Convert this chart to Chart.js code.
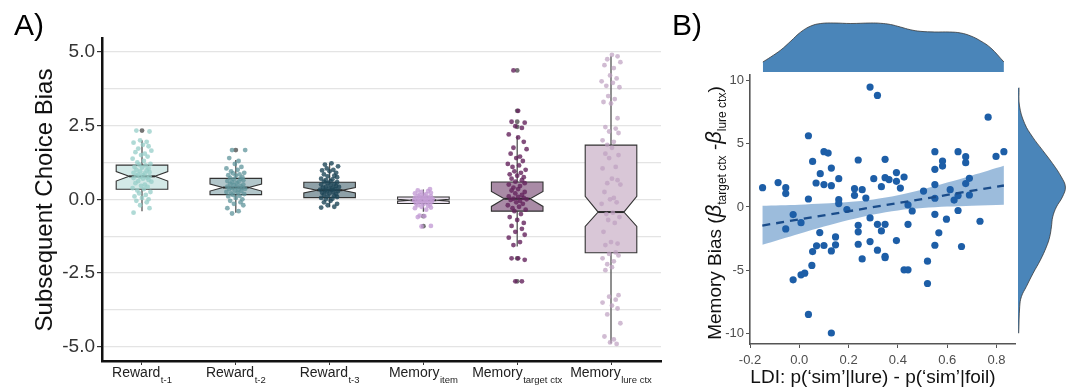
<!DOCTYPE html>
<html><head><meta charset="utf-8">
<script src="https://cdn.jsdelivr.net/npm/chart.js@4.4.1/dist/chart.umd.min.js"></script>
<style>
html,body{margin:0;padding:0;background:#fff;}
#wrap{position:relative;width:1083px;height:387px;overflow:hidden;background:#fff;}
canvas{position:absolute;}
</style></head><body>
<div id="wrap">
<canvas id="cA" width="680" height="387" style="left:0;top:0;width:680px;height:387px"></canvas>
<canvas id="cB" width="423" height="387" style="left:660px;top:0;width:423px;height:387px"></canvas>
<canvas id="cTop" width="423" height="80" style="left:660px;top:0;width:423px;height:80px"></canvas>
<canvas id="cRight" width="83" height="387" style="left:1000px;top:0;width:83px;height:387px"></canvas>
</div>
<script>
// ---------- Panel A data ----------
const categoryNames = ['Reward','Reward','Reward','Memory','Memory','Memory'];
const categorySubs = ['t-1','t-2','t-3','item','target ctx','lure ctx'];
const boxQ1     = [0.34, 0.16, 0.06, -0.14, -0.40, -1.81];
const boxMedian = [0.78, 0.40, 0.31, -0.03, 0.02, -0.43];
const boxQ3     = [1.16, 0.71, 0.58, 0.08, 0.59, 1.84];
const whiskerLow  = [-0.40, -0.45, -0.27, -0.42, -1.60, -4.89];
const whiskerHigh = [2.00, 1.33, 1.22, 0.33, 2.14, 4.85];
const notchLow  = [0.62, 0.28, 0.22, -0.06, -0.24, -0.92];
const notchHigh = [0.94, 0.52, 0.40, 0.00, 0.27, 0.10];
const outliers = [[2.33],[1.67],[],[-0.57,-0.91],[4.37,3.0,2.63,2.46,-2.0,-2.78],[]];
const pointsReward1 = [2.33,2.3,2.0,1.95,1.92,1.85,1.8,1.72,1.65,1.6,1.55,1.5,1.45,1.38,1.3,1.25,1.2,1.18,1.15,1.1,1.08,1.05,1.0,0.98,0.95,0.92,0.9,0.88,0.85,0.82,0.8,0.78,0.76,0.74,0.72,0.7,0.66,0.62,0.6,0.55,0.5,0.46,0.42,0.38,0.35,0.3,0.25,0.2,0.15,0.1,0.05,0.0,-0.05,-0.1,-0.2,-0.3,-0.45];
const pointsReward2 = [1.67,1.67,1.4,1.3,1.2,1.1,1.05,1.0,0.95,0.9,0.88,0.85,0.82,0.8,0.75,0.72,0.7,0.68,0.65,0.62,0.6,0.58,0.55,0.52,0.5,0.48,0.45,0.43,0.42,0.4,0.38,0.36,0.35,0.33,0.3,0.28,0.25,0.22,0.2,0.18,0.15,0.12,0.1,0.05,0.0,-0.05,-0.1,-0.15,-0.2,-0.3,-0.4,-0.48];
const pointsReward3 = [1.22,1.18,1.12,1.05,1.0,0.98,0.95,0.9,0.85,0.8,0.78,0.75,0.7,0.68,0.65,0.62,0.6,0.58,0.55,0.52,0.5,0.48,0.45,0.43,0.42,0.4,0.38,0.36,0.35,0.33,0.32,0.3,0.28,0.26,0.25,0.22,0.2,0.18,0.15,0.12,0.1,0.08,0.05,0.02,0.0,-0.05,-0.1,-0.15,-0.2,-0.25,-0.28];
const pointsMemItem = [0.35,0.3,0.28,0.25,0.22,0.2,0.18,0.15,0.13,0.12,0.1,0.08,0.07,0.05,0.04,0.03,0.02,0.01,0.0,-0.01,-0.02,-0.03,-0.04,-0.05,-0.06,-0.08,-0.1,-0.12,-0.14,-0.16,-0.18,-0.2,-0.22,-0.25,-0.28,-0.3,-0.35,-0.55,-0.57,-0.6,-0.9,-0.92];
const pointsMemTarget = [4.37,3.0,2.63,2.6,2.48,2.42,2.2,2.1,1.95,1.75,1.7,1.55,1.45,1.4,1.3,1.2,1.15,1.1,1.0,0.95,0.9,0.85,0.8,0.75,0.7,0.65,0.6,0.55,0.5,0.45,0.4,0.35,0.3,0.25,0.2,0.15,0.1,0.08,0.05,0.02,0.0,-0.02,-0.05,-0.1,-0.15,-0.2,-0.25,-0.3,-0.35,-0.4,-0.5,-0.6,-0.7,-0.8,-0.9,-1.0,-1.1,-1.2,-1.3,-1.45,-1.55,-2.0,-2.0,-2.05,-2.78,-2.78];
const pointsMemLure = [4.9,4.85,4.75,4.65,4.55,4.45,4.2,4.1,4.0,3.95,3.85,3.8,3.5,3.4,3.3,3.25,2.75,2.45,2.4,2.3,2.25,2.0,1.95,1.85,1.75,1.55,1.5,1.4,1.1,1.05,0.7,0.65,0.55,0.5,0.25,0.05,0.0,-0.1,-0.15,-0.45,-0.5,-0.6,-0.7,-0.8,-1.1,-1.45,-1.5,-1.55,-1.8,-1.85,-1.9,-2.0,-2.1,-2.2,-2.3,-2.4,-3.25,-3.3,-3.4,-3.5,-3.6,-3.7,-3.9,-4.2,-4.65,-4.75,-4.85,-4.9];
const yTickLabelsA = ['-5.0','-2.5','0.0','2.5','5.0'];

// ---------- Panel B data ----------
const ldi = [-0.149,-0.086,-0.055,-0.055,-0.025,0.037,0.037,0.054,0.068,0.085,0.1,0.117,0.1,0.13,0.13,0.16,0.16,0.16,0.193,0.224,0.224,0.239,0.255,0.27,0.287,0.317,0.287,0.302,0.333,0.348,0.348,0.364,0.394,0.394,0.41,0.425,0.441,0.458,0.504,0.55,0.55,0.55,0.55,0.55,0.581,0.581,0.612,0.628,0.644,0.644,0.644,0.675,0.675,0.675,0.69,0.69,0.766,0.798,0.83,0.733,0.597,
  -0.055,0.007,0.083,0.054,0.07,0.1,0.13,0.147,0.147,0.051,-0.025,0.007,0.022,0.037,0.13,0.239,0.239,0.239,0.255,0.287,0.317,0.317,0.333,0.348,0.348,0.348,0.394,0.425,0.441,0.441,0.52,0.52,0.55,0.566,0.658];
const memBias = [1.53,1.93,1.53,1.06,-0.6,5.64,0.63,3.61,1.9,2.64,4.38,4.27,1.77,1.69,3.08,2.24,0.58,0.27,-0.2,1.45,0.92,3.72,1.37,0.71,9.49,8.83,-0.87,2.24,1.61,3.77,2.32,2.17,2.72,2.03,1.5,2.37,0.16,-0.32,1.26,4.38,2.98,1.77,0.69,-0.58,3.64,3.24,1.37,0.55,4.38,0.9,-0.28,3.98,3.51,1.85,2.27,0.95,7.11,4.0,4.38,-1.13,-0.97,
  -1.74,-1.24,-2.03,-3.53,-3.08,-3.05,-3.48,-2.37,-3.0,-4.63,-5.77,-5.37,-5.24,-8.51,-9.98,-1.45,-1.97,-2.95,-4.11,-2.74,-1.37,-3.42,-1.9,-1.37,-3.9,-4.02,-2.66,-4.98,-4.98,-1.37,-4.29,-6.06,-3.03,-2.05,-3.13];
const bandX = [-0.15, 0.0, 0.1, 0.2, 0.3, 0.4, 0.5, 0.6, 0.7, 0.83];
const bandUpper = [0.10, 0.18, 0.27, 0.39, 0.60, 0.93, 1.39, 1.93, 2.50, 3.27];
const bandLower = [-3.00, -2.12, -1.55, -1.03, -0.59, -0.27, -0.09, 0.03, 0.10, 0.17];
const fitX = [-0.15, 0.83];
const fitY = [-1.47, 1.70];
const topDensX = [-0.148,-0.116,-0.075,-0.034,0.006,0.047,0.087,0.14,0.209,0.29,0.33,0.37,0.41,0.45,0.49,0.55,0.61,0.655,0.696,0.736,0.777,0.83];
const topDensY = [10,15,22,31,40,46,48.5,49,48.5,49,48.7,47.5,45,42.3,40.7,40,40,39,36,31,24,10];
const rightDensY = [-10,-7.9,-7.1,-6.3,-5.26,-4.2,-3.16,-2.37,-1.58,-0.79,0,0.79,1.58,2.37,3.43,4.48,5.53,6.6,8.0,9.45];
const rightDensX = [0.7,1.7,3.4,8.4,15,22.4,28.4,31.7,33.4,34.7,38.4,44.4,47.4,43.4,34.7,24.7,14.7,6.7,1.5,1];

// ---------- styles ----------
const FONT = "'Liberation Sans', Arial, sans-serif";
Chart.defaults.font.family = FONT;
const boxFill = ['#d3e9e7','#b2c6ca','#8fa1a8','#ece3f0','#a98ba6','#d9c7d7'];
const pointColor = ['rgba(150,206,200,0.75)','rgba(95,148,155,0.75)','rgba(30,70,88,0.8)','rgba(196,158,214,0.8)','rgba(100,35,92,0.8)','rgba(190,160,192,0.7)'];
const jitter = [-0.06,0.08,-0.02,0.05,-0.09,0.01,0.07,-0.04,0.10,-0.07,0.03,-0.01,0.06,-0.10,0.02,-0.05,0.09,-0.03,0.04,-0.08,0.00,0.07,-0.06,0.05,-0.02,0.08,-0.09,0.03,-0.04,0.01];
const pointsByCategory = [pointsReward1,pointsReward2,pointsReward3,pointsMemItem,pointsMemTarget,pointsMemLure];

const boxPlugin = {
  id:'boxes',
  beforeDatasetsDraw(chart){
    const {ctx, scales:{x,y}} = chart;
    const hw = 0.275, nw = 0.5;
    ctx.save();
    for(let i=0;i<categoryNames.length;i++){
      const c = i+1;
      const xl = x.getPixelForValue(c-hw), xr = x.getPixelForValue(c+hw), xc = x.getPixelForValue(c);
      const nl = x.getPixelForValue(c-hw*nw), nr = x.getPixelForValue(c+hw*nw);
      const y1 = y.getPixelForValue(boxQ1[i]), y3 = y.getPixelForValue(boxQ3[i]);
      const ym = y.getPixelForValue(boxMedian[i]);
      const ynl = y.getPixelForValue(notchLow[i]), ynh = y.getPixelForValue(notchHigh[i]);
      ctx.strokeStyle = '#555'; ctx.lineWidth = 1.3;
      ctx.beginPath();
      ctx.moveTo(xc, y3); ctx.lineTo(xc, y.getPixelForValue(whiskerHigh[i]));
      ctx.moveTo(xc, y1); ctx.lineTo(xc, y.getPixelForValue(whiskerLow[i]));
      ctx.stroke();
      ctx.beginPath();
      ctx.moveTo(xl,y3); ctx.lineTo(xr,y3); ctx.lineTo(xr,ynh); ctx.lineTo(nr,ym); ctx.lineTo(xr,ynl);
      ctx.lineTo(xr,y1); ctx.lineTo(xl,y1); ctx.lineTo(xl,ynl); ctx.lineTo(nl,ym); ctx.lineTo(xl,ynh); ctx.closePath();
      ctx.fillStyle = boxFill[i]; ctx.fill();
      ctx.strokeStyle = '#333'; ctx.lineWidth = 1.1; ctx.stroke();
      ctx.beginPath(); ctx.lineWidth = 2; ctx.strokeStyle = '#2a2a2a';
      ctx.moveTo(nl, ym); ctx.lineTo(nr, ym); ctx.stroke();
      ctx.fillStyle = 'rgba(70,70,70,0.75)';
      outliers[i].forEach(v=>{ ctx.beginPath(); ctx.arc(xc, y.getPixelForValue(v), 2.4, 0, Math.PI*2); ctx.fill(); });
    }
    ctx.restore();
  }
};

const labelsA = {
  id:'labelsA',
  afterDraw(chart){
    const {ctx, scales:{x}} = chart;
    ctx.save();
    ctx.fillStyle = '#222'; ctx.textBaseline = 'alphabetic'; ctx.textAlign = 'left';
    categoryNames.forEach((name,i)=>{
      const xc = x.getPixelForValue(i+1);
      ctx.font = '14px '+FONT; const mw = ctx.measureText(name).width;
      ctx.font = '9.5px '+FONT; const sw = ctx.measureText(categorySubs[i]).width;
      const x0 = xc - (mw+sw+0.5)/2;
      ctx.font = '14px '+FONT; ctx.fillText(name, x0, 377);
      ctx.font = '9.5px '+FONT; ctx.fillText(categorySubs[i], x0+mw+0.5, 382.5);
    });
    ctx.restore();
    ctx.save();
    ctx.fillStyle = '#111'; ctx.font = '24px '+FONT; ctx.textAlign = 'center';
    ctx.translate(52, 200); ctx.rotate(-Math.PI/2);
    ctx.fillText('Subsequent Choice Bias', 0, 0);
    ctx.restore();
    ctx.save(); ctx.fillStyle = '#000'; ctx.font = '30px '+FONT; ctx.fillText('A)', 14, 35); ctx.restore();
  }
};

const labelsB = {
  id:'labelsB',
  afterDraw(chart){
    const ctx = chart.ctx;
    ctx.save();
    ctx.fillStyle = '#111'; ctx.textBaseline = 'alphabetic';
    ctx.font = '19px '+FONT; ctx.textAlign = 'center';
    ctx.fillText('LDI: p(\u2018sim\u2019|lure) - p(\u2018sim\u2019|foil)', 213, 383);
    ctx.textAlign = 'left';
    ctx.font = '30px '+FONT; ctx.fillStyle = '#000'; ctx.fillText('B)', 12, 35);
    ctx.restore();
    ctx.save();
    ctx.fillStyle = '#111'; ctx.textBaseline = 'alphabetic'; ctx.textAlign = 'left';
    const parts = [
      {t:'Memory Bias (', f:'19px '+FONT, dy:0},
      {t:'\u03B2', f:'italic 22px '+FONT, dy:0},
      {t:'target ctx', f:'12px '+FONT, dy:5},
      {t:' -', f:'19px '+FONT, dy:0},
      {t:'\u03B2', f:'italic 22px '+FONT, dy:0},
      {t:'lure ctx', f:'12px '+FONT, dy:5},
      {t:')', f:'19px '+FONT, dy:0}
    ];
    let total = 0;
    parts.forEach(p=>{ ctx.font = p.f; p.w = ctx.measureText(p.t).width; total += p.w; });
    ctx.translate(61, 213); ctx.rotate(-Math.PI/2);
    let px = -total/2;
    parts.forEach(p=>{ ctx.font = p.f; ctx.fillText(p.t, px, p.dy); px += p.w; });
    ctx.restore();
  }
};

const common = {responsive:false, maintainAspectRatio:false, animation:false, devicePixelRatio:1, events:[],
  plugins:{legend:{display:false}, tooltip:{enabled:false}}};

const isMajor = v => Math.abs(v/2.5 - Math.round(v/2.5)) < 1e-6;

new Chart(document.getElementById('cA'), {
  type:'scatter',
  data:{datasets: pointsByCategory.map((vals,k)=>({
    data: vals.map((v,i)=>({x: k+1+jitter[(i+7*k)%jitter.length], y: v})),
    backgroundColor: pointColor[k], borderWidth:0, pointRadius:2.4, pointHoverRadius:2.4
  }))},
  options: Object.assign({}, common, {
    layout:{padding:{left:0,right:19,top:38,bottom:0}},
    scales:{
      x:{type:'linear', min:0.5736, max:6.533,
        afterFit: s=>{ s.height = 26; },
        afterBuildTicks: s=>{ s.ticks = categoryNames.map((_,i)=>({value:i+1})); },
        ticks:{callback:()=>'', includeBounds:false, autoSkip:false},
        grid:{display:true, drawOnChartArea:false, drawTicks:true, tickLength:4, tickColor:'#333'},
        border:{display:true, color:'#111', width:2.5}},
      y:{type:'linear', min:-5.48, max:5.47,
        afterFit: s=>{ s.width = 102; },
        ticks:{stepSize:1.25, includeBounds:false, autoSkip:false, font:{size:19}, color:'#333', padding:2,
          callback: v => isMajor(v) ? yTickLabelsA[Math.round(v/2.5)+2] : ''},
        grid:{color:'#e4e4e4', lineWidth:1.2, drawTicks:true, tickLength:5,
          tickColor: c => (c.tick && isMajor(c.tick.value)) ? '#333' : 'rgba(0,0,0,0)'},
        border:{display:true, color:'#111', width:2.5}}
    }
  }),
  plugins:[boxPlugin, labelsA]
});

new Chart(document.getElementById('cB'), {
  type:'scatter',
  data:{datasets:[
    {type:'line', data: bandX.map((x,i)=>({x, y: bandUpper[i]})), showLine:true, borderWidth:0, borderColor:'rgba(0,0,0,0)', pointRadius:0, fill:'+1', backgroundColor:'rgba(58,122,186,0.5)', tension:0.3, order:3},
    {type:'line', data: bandX.map((x,i)=>({x, y: bandLower[i]})), showLine:true, borderWidth:0, borderColor:'rgba(0,0,0,0)', pointRadius:0, fill:false, tension:0.3, order:3},
    {data: ldi.map((x,i)=>({x, y: memBias[i]})), backgroundColor:'#1d5ea7', borderWidth:0, pointRadius:3.6, pointHoverRadius:3.6, order:2},
    {type:'line', data: fitX.map((x,i)=>({x, y: fitY[i]})), showLine:true, borderColor:'#1a4c8a', borderWidth:2.3, borderDash:[8,6], pointRadius:0, fill:false, order:1}
  ]},
  options: Object.assign({}, common, {
    layout:{padding:{left:0,right:68,top:75,bottom:0}},
    scales:{
      x:{type:'linear', min:-0.2, max:0.875,
        afterFit: s=>{ s.height = 43; },
        ticks:{stepSize:0.2, includeBounds:false, font:{size:13}, color:'#4d4d4d', padding:5, callback: v=>Number(v).toFixed(1)},
        grid:{display:true, drawOnChartArea:false, drawTicks:true, tickLength:4, tickColor:'#555'},
        border:{display:true, color:'#555', width:1.6}},
      y:{type:'linear', min:-10.85, max:10.45,
        afterFit: s=>{ s.width = 90; },
        ticks:{stepSize:5, includeBounds:false, font:{size:13}, color:'#4d4d4d', padding:2},
        grid:{display:true, drawOnChartArea:false, drawTicks:true, tickLength:4, tickColor:'#555'},
        border:{display:true, color:'#555', width:1.6}}
    }
  }),
  plugins:[labelsB]
});

new Chart(document.getElementById('cTop'), {
  type:'line',
  data:{datasets:[{data: topDensX.map((x,i)=>({x, y: topDensY[i]})), fill:'origin', backgroundColor:'#4a85b9', borderColor:'#3a3a3a', borderWidth:0.8, pointRadius:0, tension:0.4}]},
  options: Object.assign({}, common, {
    layout:{padding:{left:90,right:68,top:20,bottom:8}},
    scales:{x:{type:'linear', display:false, min:-0.2, max:0.875}, y:{type:'linear', display:false, min:0, max:52}}
  })
});

new Chart(document.getElementById('cRight'), {
  type:'line',
  data:{datasets:[{data: rightDensY.map((y,i)=>({x: rightDensX[i], y})), fill:'origin', backgroundColor:'#4a85b9', borderColor:'#3a3a3a', borderWidth:0.8, pointRadius:0, tension:0.4}]},
  options: Object.assign({}, common, {
    indexAxis:'y',
    layout:{padding:{left:18,right:15,top:75,bottom:43}},
    scales:{x:{type:'linear', display:false, min:0, max:50}, y:{type:'linear', display:false, min:-10.85, max:10.45}}
  })
});
</script>
</body></html>
